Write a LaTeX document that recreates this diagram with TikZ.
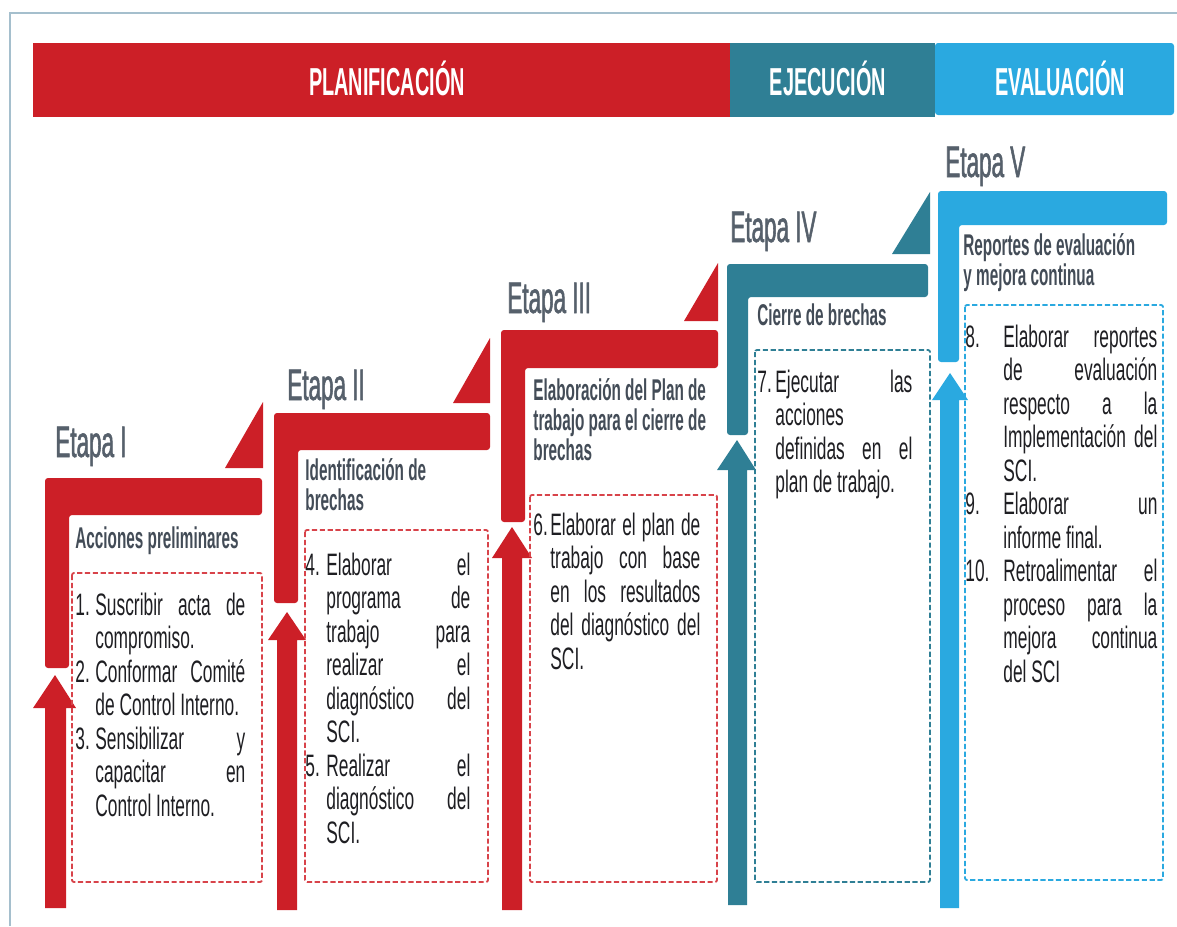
\documentclass[tikz,border=0pt]{standalone}
\usepackage{fontspec}
\setmainfont{Liberation Sans}
\newfontfamily\dispf[FakeStretch=0.51]{Liberation Sans}
\newfontfamily\etapaf[FakeStretch=0.51,FakeBold=1.2]{Liberation Sans}
\newfontfamily\bodyf[FakeStretch=0.56]{Liberation Sans}
\definecolor{cred}{HTML}{CC1F27}
\definecolor{cteal}{HTML}{2F7F95}
\definecolor{cblue}{HTML}{2AA9E0}
\definecolor{cdash}{HTML}{D8434A}
\definecolor{cgray}{HTML}{56606B}
\definecolor{csub}{HTML}{434C57}
\definecolor{ctext}{HTML}{1E1E22}
\definecolor{cframe}{HTML}{A5BFCD}
\newlength\numw
\newcommand\litem[2]{\hangindent=\numw\hangafter=1\noindent\makebox[\numw][l]{#1}#2\par}
\newcommand\listbox[3]{\parbox[t]{#1}{\fontsize{15.5}{16.75}\selectfont\hyphenpenalty=10000\exhyphenpenalty=10000\setlength\numw{#2}#3}}
\begin{document}
\begin{tikzpicture}[x=0.5pt,y=-0.5pt,
  etapa/.style={anchor=base west, inner sep=0, font=\etapaf\fontsize{22}{24}\selectfont, text=cgray},
  sub/.style={anchor=base west, inner sep=0, font=\dispf\bfseries\fontsize{15}{14.5}\selectfont, text=csub},
  hdtext/.style={anchor=base, inner sep=0, font=\dispf\bfseries\fontsize{19.5}{22}\selectfont, text=white},
  lbar/.style={rounded corners=1.5pt},
  dbox/.style={dash pattern=on 2.6pt off 1.3pt, line width=0.9pt, rounded corners=1pt},
  listtext/.style={anchor=base west, inner sep=0, font=\bodyf, text=ctext}]
\useasboundingbox (0,0) rectangle (1177,926);
% frame lines
\draw[cframe, line width=0.8pt] (1177,13) -- (10,13) -- (10,926);
% header
\fill[cred] (33,43) rectangle (730,117);
\fill[cteal] (730,43) rectangle (935,117);
\fill[cblue, rounded corners=1.5pt] (935,43) -- (1174,43) -- (1174,115) -- (935,115) -- cycle;
\node[hdtext] (hp) at (387,95) {PLANIFICACIÓN};
\node[hdtext] (he) at (828,95) {EJECUCIÓN};
\node[hdtext] (hv) at (1060,95) {EVALUACIÓN};

% ---------- Etapa I
\fill[cred] (225,468) -- (263,402) -- (263,468) -- cycle;
\fill[cred, lbar] (45,478) -- (262,478) -- (262,515) -- (69,515) -- (69,668) -- (45,668) -- cycle;
\fill[cred] (45,908) -- (45,708) -- (33,708) -- (55,675) -- (76,708) -- (66,708) -- (66,908) -- cycle;
\draw[cdash, dbox] (72,573) rectangle (262,882);
\node[etapa] (e1) at (55,457) {Etapa I};
\node[sub] (s1) at (75,548) {Acciones preliminares};
\node[listtext] (l1) at (75,615) {\listbox{85pt}{10pt}{%
\litem{1.}{Suscribir acta de\linebreak compromiso.}%
\litem{2.}{Conformar Comité\linebreak de Control Interno.}%
\litem{3.}{Sensibilizar y\linebreak capacitar en\linebreak Control Interno.}}};

% ---------- Etapa II
\fill[cred] (453,403) -- (490,338) -- (490,403) -- cycle;
\fill[cred, lbar] (274,413) -- (490,413) -- (490,450) -- (298,450) -- (298,603) -- (274,603) -- cycle;
\fill[cred] (277,910) -- (277,640) -- (268,640) -- (287,612) -- (306,640) -- (297,640) -- (297,910) -- cycle;
\draw[cdash, dbox] (305,530) rectangle (488,882);
\node[etapa] (e2) at (287,400) {Etapa II};
\node[sub] (s2) at (305,480) {\begin{tabular}[t]{@{}l@{}}Identificación de\\ brechas\end{tabular}};
\node[listtext] (l2) at (305,575) {\listbox{82.5pt}{10.5pt}{%
\litem{4.}{Elaborar el\linebreak programa de\linebreak trabajo para\linebreak realizar el\linebreak diagnóstico del\linebreak SCI.}%
\litem{5.}{Realizar el\linebreak diagnóstico del\linebreak SCI.}}};

% ---------- Etapa III
\fill[cred] (684,321) -- (718,263) -- (718,321) -- cycle;
\fill[cred, lbar] (501,330) -- (718,330) -- (718,368) -- (525,368) -- (525,522) -- (501,522) -- cycle;
\fill[cred] (502,910) -- (502,558) -- (492,558) -- (512,527) -- (532,558) -- (522,558) -- (522,910) -- cycle;
\draw[cdash, dbox] (530,495) rectangle (717,882);
\node[etapa] (e3) at (507,313) {Etapa III};
\node[sub] (s3) at (533,400) {\begin{tabular}[t]{@{}l@{}}Elaboración del Plan de\\ trabajo para el cierre de\\ brechas\end{tabular}};
\node[listtext] (l3) at (533,535) {\listbox{83.5pt}{8.5pt}{%
\litem{6.}{Elaborar el plan de\linebreak trabajo con base\linebreak en los resultados\linebreak del diagnóstico del\linebreak SCI.}}};

% ---------- Etapa IV
\fill[cteal] (892,254) -- (930,192) -- (930,254) -- cycle;
\fill[cteal, lbar] (727,264) -- (928,264) -- (928,297) -- (748,297) -- (748,435) -- (727,435) -- cycle;
\fill[cteal] (728,905) -- (728,470) -- (717,470) -- (737,440) -- (756,470) -- (747,470) -- (747,905) -- cycle;
\draw[cteal, dbox] (755,350) rectangle (930,882);
\node[etapa] (e4) at (730,242) {Etapa IV};
\node[sub] (s4) at (757,325) {Cierre de brechas};
\node[listtext] (l4) at (757,392) {\listbox{77.5pt}{9pt}{%
\litem{7.}{Ejecutar las\linebreak acciones\linebreak definidas en el\linebreak plan de trabajo.}}};

% ---------- Etapa V
\fill[cblue, lbar] (938,191) -- (1167,191) -- (1167,225) -- (959,225) -- (959,362) -- (938,362) -- cycle;
\fill[cblue] (940,908) -- (940,400) -- (932,400) -- (950,373) -- (968,400) -- (959,400) -- (959,908) -- cycle;
\draw[cblue, dbox] (965,305) rectangle (1163,880);
\node[etapa] (e5) at (945,177) {Etapa V};
\node[sub] (s5) at (963,255) {\begin{tabular}[t]{@{}l@{}}Reportes de evaluación\\ y mejora continua\end{tabular}};
\node[listtext] (l5) at (965,347) {\listbox{96pt}{19pt}{%
\litem{8.}{Elaborar reportes\linebreak de evaluación\linebreak respecto a la\linebreak Implementación del\linebreak SCI.}%
\litem{9.}{Elaborar un\linebreak informe final.}%
\litem{10.}{Retroalimentar el\linebreak proceso para la\linebreak mejora continua\linebreak del SCI}}};
\end{tikzpicture}
\end{document}
